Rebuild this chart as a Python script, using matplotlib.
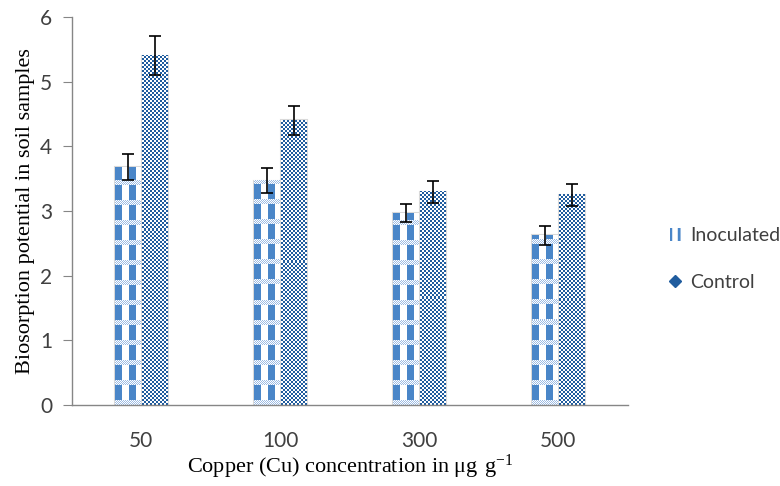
import numpy as np
import matplotlib.pyplot as plt
import matplotlib as mpl
from matplotlib.patches import Patch
from matplotlib.lines import Line2D

# Data
categories = ["50", "100", "300", "500"]
inoculated = [3.68, 3.47, 2.97, 2.62]
inoculated_err = [0.20, 0.20, 0.14, 0.15]
control = [5.40, 4.40, 3.30, 3.25]
control_err = [0.30, 0.23, 0.17, 0.17]

INOC_BLUE = np.array([0x4A, 0x86, 0xC8]) / 255
INOC_LIGHT = np.array([0x9D, 0xBC, 0xE4]) / 255
CTRL_BLUE = np.array([0x20, 0x5C, 0x9E]) / 255
WHITE = np.array([1.0, 1.0, 1.0])

mpl.rcParams['hatch.linewidth'] = 2.0

fig = plt.figure(figsize=(7.8, 4.86), dpi=100)
ax = fig.add_axes([0.092, 0.167, 0.713, 0.798])
ax.set_xlim(-0.5, 3.5)
ax.set_ylim(0, 6)

x = np.arange(len(categories))
w = 0.185
xi = x - w / 2 - 0.006
xc = x + w / 2 + 0.006

b1 = ax.bar(xi, inoculated, w, color='white', edgecolor='#D9D9D9', linewidth=1.5, zorder=1)
b2 = ax.bar(xc, control, w, color='white', edgecolor='#D9D9D9', linewidth=1.5, zorder=1)


def fill_pattern(bar, kind):
    # paint a pixel pattern inside the bar, clipped to its shape
    x0, y0 = bar.get_x(), bar.get_y()
    bw, bh = bar.get_width(), bar.get_height()
    (px0, py0), (px1, py1) = ax.transData.transform([(x0, y0), (x0 + bw, y0 + bh)])
    W = max(int(round(px1 - px0)), 1)
    H = max(int(round(py1 - py0)), 1)
    yy, xx = np.mgrid[0:H, 0:W]
    img = np.ones((H, W, 3))
    if kind == 'checker':
        mask = ((xx // 2 + yy // 2) % 2 == 0)
        img[mask] = CTRL_BLUE
    else:
        stripe = (xx % 14) < 7
        img[stripe] = INOC_BLUE
        band = (yy % 20) < 5
        img[band] = WHITE
        dots = band & ((xx + yy) % 2 == 0)
        img[dots] = INOC_LIGHT
    ax.imshow(img, extent=(x0, x0 + bw, y0, y0 + bh), origin='lower',
              interpolation='nearest', aspect='auto', zorder=2, clip_path=bar)


for b in b1:
    fill_pattern(b, 'stripes')
for b in b2:
    fill_pattern(b, 'checker')

ax.errorbar(xi, inoculated, yerr=inoculated_err, fmt='none', ecolor='black',
            elinewidth=1.2, capsize=4.3, capthick=1.2, zorder=3)
ax.errorbar(xc, control, yerr=control_err, fmt='none', ecolor='black',
            elinewidth=1.2, capsize=4.3, capthick=1.2, zorder=3)

ax.set_xlim(-0.5, 3.5)
ax.set_ylim(0, 6)
ax.set_xticks(x)
ax.set_xticklabels(categories, fontsize=15, family='Lato', color='#404040')
ax.set_yticks(range(7))
ax.set_yticklabels([str(i) for i in range(7)], fontsize=15, family='Lato', color='#404040')
ax.tick_params(axis='x', length=0, pad=19)
ax.tick_params(axis='y', length=6.5, color='#868686', pad=7.5)

for s in ['top', 'right']:
    ax.spines[s].set_visible(False)
for s in ['left', 'bottom']:
    ax.spines[s].set_color('#868686')
    ax.spines[s].set_linewidth(1.0)

ax.set_ylabel('Biosorption potential in soil samples', family='Liberation Serif', fontsize=16, labelpad=4)
ax.set_xlabel(r'Copper (Cu) concentration in $\mathregular{\mu g\ g^{-1}}$', family='Liberation Serif',
              fontsize=16, labelpad=1)

handles = [
    Patch(facecolor='white', edgecolor=INOC_BLUE, hatch='||', linewidth=0, label='Inoculated'),
    Line2D([], [], linestyle='none', marker='D', markersize=6, color=CTRL_BLUE, label='Control'),
]
leg = ax.legend(handles=handles, loc='center left', bbox_to_anchor=(1.075, 0.376), frameon=False,
                prop={'family': 'Lato', 'size': 14}, handlelength=0.6, handleheight=0.7,
                labelspacing=1.5, handletextpad=0.45, borderaxespad=0, borderpad=0)
for t in leg.get_texts():
    t.set_color('#404040')

fig.savefig('out.png', dpi=100)
